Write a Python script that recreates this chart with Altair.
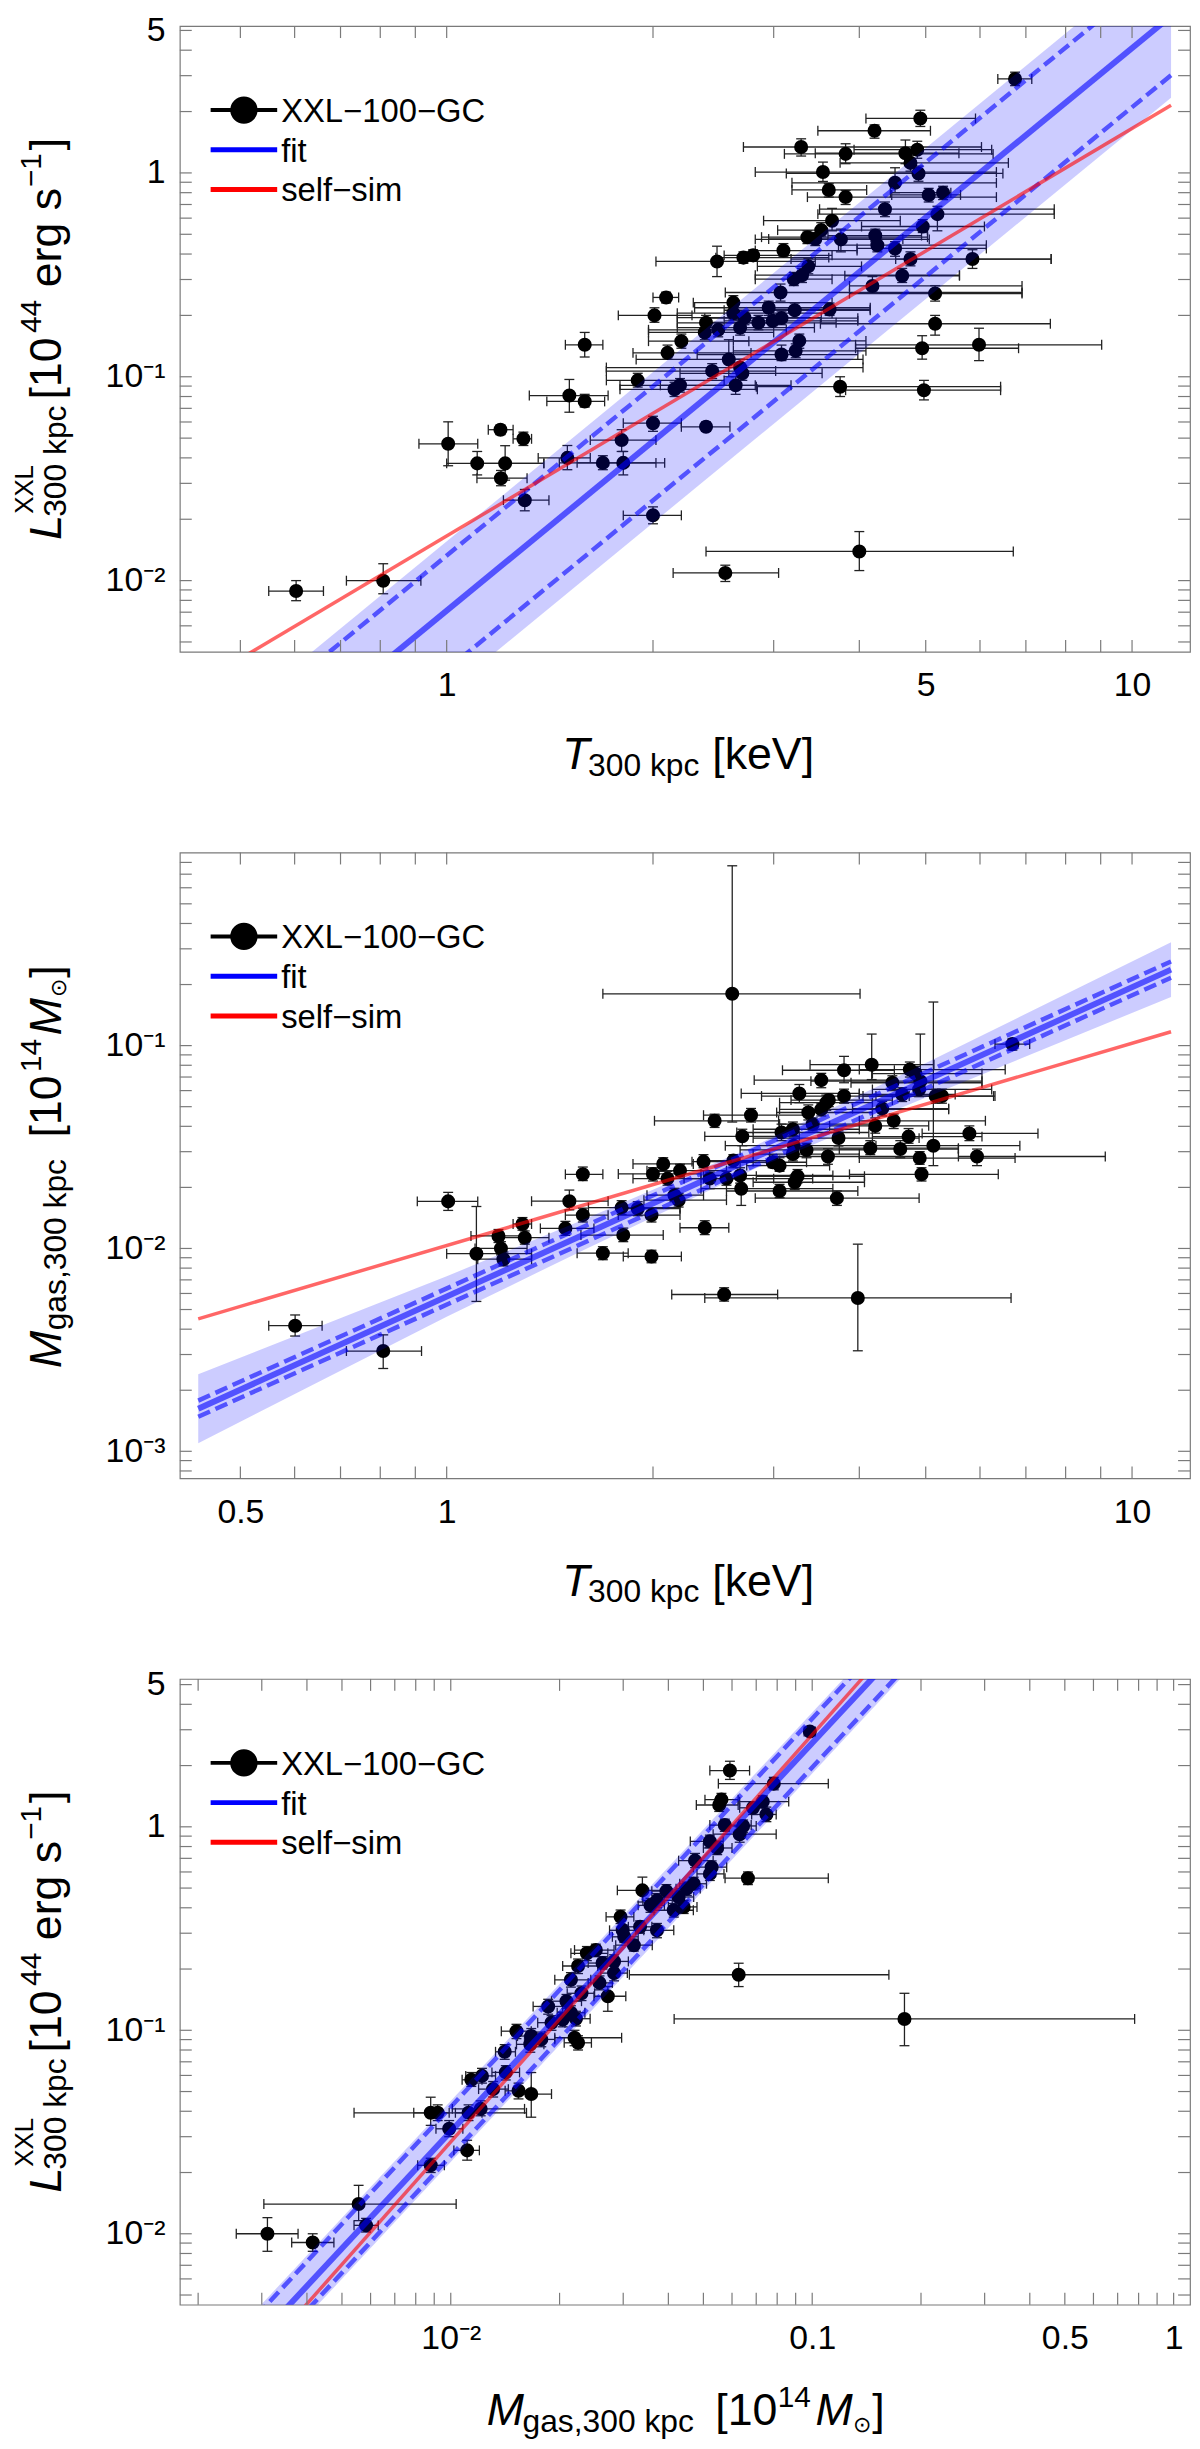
import altair as alt
import pandas as pd

# ---------------- data: panel 1  (T300kpc vs L_XXL) ----------------
p1_T = [6.75, 4.91, 4.21, 3.29, 3.82, 4.67, 4.86, 4.75, 3.54, 4.88,
        4.51, 3.61, 3.82, 5.05, 5.30, 4.36, 5.20, 3.65, 4.95, 3.52,
        3.36, 3.45, 3.76, 4.22, 4.25, 4.51, 3.10, 2.71, 2.80, 2.48,
        4.75, 5.85, 3.37, 3.30, 3.21, 4.62, 3.07, 4.18, 5.16, 2.09,
        2.62, 2.01, 2.95, 3.22, 3.62, 2.72, 2.62, 2.99, 3.08, 2.85,
        2.39, 2.68, 2.38, 2.49, 5.16, 1.59, 2.20, 2.10, 3.27, 3.23,
        3.08, 4.94, 5.98, 2.58, 2.68, 2.70, 2.44, 1.90, 2.15, 2.19,
        2.64, 3.75, 4.97, 1.51, 1.59, 2.00, 2.39, 1.80, 1.50, 1.69,
        1.81, 2.00, 4.00, 2.55, 0.603, 0.808, 1.005, 1.198, 1.108, 1.217,
        1.20, 1.294, 1.30]
p1_T_lo = [6.37, 4.09, 3.48, 2.71, 3.11, 3.45, 3.93, 3.75, 2.82, 3.13,
           3.19, 3.19, 3.36, 4.46, 4.44, 3.50, 3.48, 2.90, 4.03, 3.04,
           2.88, 2.95, 2.82, 3.60, 3.73, 3.97, 2.82, 2.47, 2.54, 2.02,
           3.18, 4.52, 2.84, 2.82, 2.82, 3.81, 2.55, 3.87, 3.87, 2.00,
           2.29, 1.78, 2.30, 2.54, 3.00, 2.17, 2.17, 2.54, 2.38, 2.38,
           2.17, 2.17, 1.97, 1.97, 3.51, 1.49, 1.97, 1.87, 2.62, 2.62,
           2.32, 3.95, 3.95, 1.89, 1.71, 2.19, 1.71, 1.71, 1.79, 1.79,
           2.05, 2.83, 3.82, 1.32, 1.40, 1.81, 2.20, 1.62, 1.36, 1.55,
           1.46, 1.81, 2.39, 2.14, 0.550, 0.714, 0.911, 1.15, 1.00, 1.107,
           1.107, 1.25, 1.21]
p1_T_hi = [7.14, 5.91, 5.08, 6.03, 6.27, 5.59, 6.24, 6.60, 6.34, 6.48,
           6.34, 4.10, 6.34, 5.62, 5.44, 7.70, 7.70, 4.59, 6.09, 5.03,
           5.03, 4.63, 5.06, 4.93, 6.13, 6.13, 3.97, 3.61, 3.65, 3.45,
           7.62, 7.62, 4.03, 5.60, 3.65, 5.60, 6.91, 6.91, 6.91, 2.18,
           3.65, 2.28, 4.15, 4.15, 4.15, 3.52, 3.65, 3.98, 3.98, 3.70,
           3.00, 3.44, 3.00, 3.13, 7.60, 1.69, 2.76, 2.78, 4.09, 4.09,
           3.98, 6.83, 9.03, 4.05, 4.05, 3.53, 3.02, 2.54, 2.84, 2.82,
           3.18, 6.43, 6.43, 1.72, 1.70, 2.20, 2.59, 2.02, 1.62, 2.02,
           2.08, 2.20, 6.71, 3.05, 0.661, 0.917, 1.11, 1.25, 1.386, 1.386,
           1.31, 1.33, 1.41]
p1_L = [2.89, 1.85, 1.61, 1.34, 1.24, 1.25, 1.30, 1.12, 1.01, 0.994,
        0.894, 0.825, 0.761, 0.78, 0.80, 0.664, 0.628, 0.583, 0.546, 0.524,
        0.484, 0.474, 0.472, 0.493, 0.442, 0.426, 0.416, 0.384, 0.394, 0.368,
        0.378, 0.378, 0.348, 0.315, 0.301, 0.313, 0.259, 0.279, 0.256, 0.245,
        0.231, 0.200, 0.218, 0.212, 0.214, 0.195, 0.205, 0.188, 0.194, 0.184,
        0.184, 0.174, 0.165, 0.170, 0.182, 0.1435, 0.1495, 0.131, 0.150, 0.134,
        0.1285, 0.138, 0.1435, 0.1216, 0.111, 0.104, 0.1067, 0.096, 0.0868, 0.0908,
        0.0908, 0.0894, 0.0859, 0.0809, 0.0757, 0.0592, 0.0568, 0.0489, 0.040, 0.0378,
        0.0378, 0.0209, 0.0139, 0.0109, 0.00889, 0.00999, 0.0469, 0.055, 0.0376, 0.0376,
        0.0318, 0.0496, 0.0248]
p1_L_lo = [2.68, 1.69, 1.48, 1.21, 1.11, 1.11, 1.18, 1.02, 0.908, 0.91,
           0.80, 0.761, 0.70, 0.72, 0.74, 0.61, 0.52, 0.52, 0.51, 0.49,
           0.45, 0.44, 0.41, 0.46, 0.41, 0.39, 0.39, 0.36, 0.37, 0.31,
           0.35, 0.34, 0.32, 0.29, 0.28, 0.29, 0.235, 0.26, 0.235, 0.23,
           0.21, 0.185, 0.20, 0.195, 0.20, 0.18, 0.19, 0.175, 0.18, 0.17,
           0.17, 0.16, 0.152, 0.157, 0.16, 0.125, 0.138, 0.122, 0.138, 0.124,
           0.12, 0.122, 0.120, 0.10, 0.10, 0.096, 0.098, 0.089, 0.08, 0.084,
           0.082, 0.08, 0.077, 0.067, 0.071, 0.054, 0.054, 0.043, 0.035, 0.035,
           0.033, 0.019, 0.0112, 0.0099, 0.00797, 0.00862, 0.0366, 0.052, 0.033, 0.0311,
           0.0292, 0.046, 0.022]
p1_L_hi = [3.12, 2.03, 1.72, 1.47, 1.39, 1.45, 1.43, 1.22, 1.13, 1.08,
           1.06, 0.885, 0.82, 0.84, 0.86, 0.72, 0.686, 0.67, 0.59, 0.57,
           0.52, 0.51, 0.53, 0.53, 0.48, 0.46, 0.45, 0.41, 0.42, 0.437,
           0.41, 0.42, 0.38, 0.34, 0.325, 0.34, 0.285, 0.31, 0.28, 0.26,
           0.25, 0.218, 0.235, 0.23, 0.23, 0.21, 0.22, 0.20, 0.21, 0.20,
           0.20, 0.19, 0.18, 0.185, 0.20, 0.165, 0.162, 0.143, 0.162, 0.145,
           0.143, 0.159, 0.173, 0.152, 0.122, 0.113, 0.116, 0.104, 0.094, 0.098,
           0.10, 0.10, 0.096, 0.097, 0.082, 0.064, 0.060, 0.055, 0.046, 0.041,
           0.043, 0.023, 0.0174, 0.0119, 0.0100, 0.0121, 0.0601, 0.058, 0.043, 0.0459,
           0.0347, 0.0535, 0.028]

# ---------------- data: panel 2  (T300kpc vs Mgas) ----------------
p2_T = [6.69, 4.17, 3.80, 4.74, 4.83, 4.91, 3.52, 4.47, 3.27, 4.89,
        5.17, 5.28, 4.62, 3.80, 3.61, 3.58, 3.52, 3.37, 2.78, 4.32,
        2.46, 3.42, 4.49, 4.22, 3.08, 3.20, 2.70, 3.73, 4.72, 5.79,
        3.21, 3.35, 4.15, 4.59, 5.13, 3.20, 3.60, 4.90, 5.94, 4.93,
        2.07, 2.00, 2.19, 2.10, 2.37, 2.62, 2.99, 3.06, 2.68, 2.42,
        2.56, 3.25, 3.22, 2.69, 3.06, 3.71, 1.58, 1.51, 1.80, 1.90,
        1.58, 1.99, 2.18, 2.15, 1.49, 1.81, 2.38, 1.69, 1.99, 2.54,
        3.98, 2.61, 0.601, 0.808, 1.005, 1.105, 1.19, 1.20, 1.21, 1.29,
        1.30]
p2_T_lo = [6.31, 3.39, 3.09, 4.00, 4.18, 3.40, 2.81, 3.89, 2.69, 4.18,
           4.05, 4.23, 4.00, 2.88, 3.18, 3.06, 3.06, 3.03, 2.37, 3.91,
           2.01, 3.06, 4.00, 3.62, 2.65, 2.80, 2.38, 2.80, 4.18, 4.94,
           2.55, 2.68, 3.20, 3.74, 4.23, 2.80, 2.96, 4.00, 5.58, 3.87,
           1.87, 1.78, 1.96, 1.87, 2.28, 2.35, 2.68, 2.74, 2.37, 2.22,
           2.35, 2.83, 2.80, 2.35, 2.56, 2.82, 1.49, 1.33, 1.61, 1.78,
           1.49, 1.78, 1.94, 1.96, 1.37, 1.57, 2.19, 1.55, 1.81, 2.13,
           2.38, 1.69, 0.55, 0.714, 0.906, 1.00, 1.085, 1.10, 1.11, 1.25,
           1.21]
p2_T_hi = [7.09, 5.14, 4.50, 6.53, 6.04, 6.04, 4.47, 6.04, 4.00, 6.24,
           6.28, 6.31, 5.52, 4.73, 4.47, 4.18, 5.40, 4.18, 3.35, 5.40,
           3.05, 4.18, 6.11, 5.05, 4.13, 4.00, 3.27, 4.89, 6.04, 7.29,
           4.18, 4.18, 5.58, 5.58, 6.86, 4.00, 4.89, 6.75, 9.14, 6.38,
           2.29, 2.35, 2.56, 2.37, 2.80, 3.06, 3.35, 3.62, 3.66, 3.00,
           3.42, 4.07, 4.07, 3.66, 3.98, 4.89, 1.69, 1.72, 2.19, 2.19,
           1.72, 2.19, 2.56, 2.37, 1.64, 2.07, 2.58, 1.84, 2.20, 3.04,
           6.66, 4.01, 0.658, 0.919, 1.11, 1.33, 1.30, 1.31, 1.33, 1.33,
           1.41]
p2_M = [0.1017, 0.0805, 0.0756, 0.0762, 0.0728, 0.0668, 0.0676, 0.0656, 0.0581, 0.0608,
        0.0564, 0.0564, 0.0574, 0.0564, 0.0539, 0.0523, 0.0485, 0.0468, 0.0454, 0.0489,
        0.0426, 0.0410, 0.0426, 0.0402, 0.0373, 0.0387, 0.0357, 0.0350, 0.0356, 0.0369,
        0.0321, 0.0306, 0.0312, 0.0309, 0.0321, 0.0292, 0.0284, 0.0279, 0.0284, 0.0232,
        0.0261, 0.0233, 0.0242, 0.0221, 0.0268, 0.0271, 0.0266, 0.0256, 0.0229, 0.0221,
        0.0221, 0.0227, 0.0212, 0.0197, 0.0192, 0.0177, 0.0232, 0.0171, 0.0159, 0.0157,
        0.0146, 0.0146, 0.0173, 0.0183, 0.01256, 0.01164, 0.01265, 0.00948, 0.00913, 0.00593,
        0.0057, 0.18, 0.00416, 0.00312, 0.01706, 0.00942, 0.01153, 0.0100, 0.00885, 0.0132,
        0.0113]
p2_M_lo = [0.095, 0.068, 0.0656, 0.070, 0.067, 0.061, 0.062, 0.060, 0.0523, 0.056,
           0.052, 0.052, 0.053, 0.052, 0.050, 0.048, 0.045, 0.043, 0.042, 0.045,
           0.0395, 0.038, 0.039, 0.037, 0.034, 0.036, 0.0321, 0.032, 0.033, 0.034,
           0.029, 0.028, 0.029, 0.028, 0.0256, 0.027, 0.026, 0.026, 0.0256, 0.0215,
           0.024, 0.0215, 0.0225, 0.0205, 0.025, 0.025, 0.025, 0.024, 0.021, 0.0197,
           0.0205, 0.021, 0.0195, 0.0163, 0.0178, 0.0163, 0.0216, 0.0155, 0.0147, 0.0145,
           0.0135, 0.0135, 0.0160, 0.0170, 0.0116, 0.0108, 0.0117, 0.0088, 0.0085, 0.0055,
           0.00313, 0.042, 0.0037, 0.00256, 0.0154, 0.00548, 0.0107, 0.0093, 0.0082, 0.0123,
           0.0105]
p2_M_hi = [0.108, 0.114, 0.0885, 0.083, 0.079, 0.114, 0.073, 0.071, 0.0643, 0.066,
           0.061, 0.061, 0.062, 0.061, 0.058, 0.057, 0.052, 0.051, 0.049, 0.053,
           0.0459, 0.044, 0.046, 0.044, 0.041, 0.042, 0.0387, 0.038, 0.039, 0.0402,
           0.035, 0.033, 0.034, 0.034, 0.164, 0.032, 0.031, 0.030, 0.0309, 0.025,
           0.028, 0.025, 0.026, 0.024, 0.029, 0.029, 0.029, 0.028, 0.025, 0.0238,
           0.024, 0.0245, 0.023, 0.0229, 0.0207, 0.0192, 0.0252, 0.0194, 0.0172, 0.0170,
           0.0158, 0.0158, 0.0187, 0.0198, 0.0136, 0.0126, 0.0137, 0.0102, 0.0098, 0.0064,
           0.0105, 0.77, 0.0047, 0.00375, 0.0189, 0.0161, 0.0124, 0.0108, 0.0096, 0.0142,
           0.0122]

# ---------------- data: panel 3  (Mgas vs L_XXL) ----------------
p3_M = [0.0985, 0.0592, 0.0783, 0.0561, 0.0553, 0.0730, 0.0747, 0.0686, 0.0573, 0.0644,
        0.063, 0.0521, 0.0546, 0.0474, 0.0527, 0.0521, 0.0664, 0.047, 0.045, 0.0395,
        0.0339, 0.0372, 0.0427, 0.0357, 0.0414, 0.0441, 0.0295, 0.0334, 0.0372, 0.0299,
        0.0302, 0.0321, 0.0252, 0.0238, 0.0283, 0.0263, 0.0225, 0.0283, 0.0215, 0.0258,
        0.0230, 0.0272, 0.0209, 0.0186, 0.0215, 0.0204, 0.0222, 0.019, 0.0152, 0.0167,
        0.0178, 0.0166, 0.022, 0.0225, 0.0141, 0.0142, 0.0122, 0.0114, 0.0131, 0.0154,
        0.0167, 0.0088, 0.0092, 0.0112, 0.0121, 0.0099, 0.0111, 0.0088, 0.0626, 0.18,
        0.00311, 0.00415, 0.00556, 0.00583]
p3_M_lo = [0.095, 0.0521, 0.055, 0.0505, 0.0478, 0.063, 0.068, 0.063, 0.0521, 0.059,
           0.0532, 0.046, 0.050, 0.0427, 0.0469, 0.048, 0.0574, 0.043, 0.042, 0.036,
           0.0289, 0.034, 0.039, 0.033, 0.0365, 0.040, 0.0269, 0.031, 0.0342, 0.0275,
           0.028, 0.0286, 0.022, 0.0215, 0.026, 0.024, 0.0204, 0.026, 0.0194, 0.024,
           0.021, 0.0249, 0.019, 0.0169, 0.0197, 0.0187, 0.0203, 0.0174, 0.0138, 0.0153,
           0.016, 0.0152, 0.0194, 0.0206, 0.0133, 0.013, 0.011, 0.01075, 0.01194, 0.01414,
           0.01538, 0.0079, 0.0054, 0.0103, 0.0101, 0.0091, 0.0102, 0.0081, 0.0312, 0.0415,
           0.00255, 0.00363, 0.00304, 0.0054]
p3_M_hi = [0.102, 0.0671, 0.1108, 0.0624, 0.0624, 0.0861, 0.0795, 0.075, 0.0678, 0.070,
           0.0795, 0.0567, 0.060, 0.0532, 0.058, 0.057, 0.1108, 0.051, 0.049, 0.043,
           0.0397, 0.041, 0.047, 0.039, 0.0469, 0.048, 0.0321, 0.036, 0.0414, 0.0325,
           0.033, 0.0361, 0.0283, 0.0272, 0.031, 0.029, 0.0255, 0.0308, 0.0244, 0.028,
           0.025, 0.0305, 0.023, 0.0204, 0.0235, 0.0222, 0.0243, 0.0207, 0.0167, 0.0182,
           0.0194, 0.0181, 0.0297, 0.0245, 0.0151, 0.0155, 0.0133, 0.0122, 0.01443, 0.0167,
           0.019, 0.0099, 0.0162, 0.0122, 0.016, 0.0108, 0.012, 0.0096, 0.163, 0.78,
           0.00378, 0.00475, 0.01035, 0.0063]
p3_L = [2.94, 1.89, 1.63, 1.36, 1.28, 1.33, 1.15, 1.24, 1.02, 1.01,
        0.92, 0.848, 0.787, 0.682, 0.633, 0.587, 0.559, 0.525, 0.497, 0.483,
        0.487, 0.435, 0.452, 0.411, 0.389, 0.404, 0.361, 0.3225, 0.31, 0.31,
        0.288, 0.262, 0.248, 0.239, 0.218, 0.214, 0.207, 0.191, 0.177, 0.171,
        0.152, 0.147, 0.139, 0.131, 0.122, 0.113, 0.114, 0.109, 0.099, 0.0937,
        0.0902, 0.0853, 0.0919, 0.0868, 0.0784, 0.0621, 0.0597, 0.0571, 0.0514, 0.0504,
        0.0486, 0.0393, 0.0393, 0.0393, 0.0411, 0.0328, 0.0257, 0.0217, 0.1875, 0.1137,
        0.0100, 0.00906, 0.0140, 0.0110]
p3_L_lo = [2.85, 1.71, 1.52, 1.27, 1.19, 1.24, 1.06, 1.15, 0.95, 0.94,
           0.84, 0.79, 0.73, 0.63, 0.59, 0.545, 0.52, 0.49, 0.46, 0.45,
           0.427, 0.40, 0.42, 0.38, 0.36, 0.375, 0.335, 0.30, 0.285, 0.29,
           0.27, 0.245, 0.23, 0.22, 0.20, 0.20, 0.19, 0.175, 0.163, 0.158,
           0.14, 0.124, 0.128, 0.12, 0.112, 0.104, 0.105, 0.10, 0.091, 0.086,
           0.083, 0.078, 0.084, 0.08, 0.072, 0.057, 0.055, 0.053, 0.047, 0.046,
           0.0374, 0.0341, 0.036, 0.036, 0.038, 0.030, 0.023, 0.020, 0.164, 0.084,
           0.0082, 0.0082, 0.0116, 0.0102]
p3_L_hi = [3.03, 2.10, 1.75, 1.46, 1.37, 1.42, 1.25, 1.33, 1.09, 1.08,
           1.0, 0.91, 0.85, 0.74, 0.68, 0.63, 0.60, 0.565, 0.535, 0.52,
           0.566, 0.47, 0.49, 0.445, 0.42, 0.435, 0.39, 0.345, 0.335, 0.33,
           0.31, 0.28, 0.265, 0.258, 0.235, 0.23, 0.224, 0.208, 0.192, 0.185,
           0.165, 0.164, 0.15, 0.142, 0.132, 0.123, 0.124, 0.118, 0.107, 0.102,
           0.098, 0.093, 0.10, 0.094, 0.085, 0.067, 0.065, 0.062, 0.056, 0.055,
           0.062, 0.0469, 0.043, 0.043, 0.045, 0.036, 0.0288, 0.0235, 0.2136, 0.152,
           0.0120, 0.0100, 0.0173, 0.0119]

# ---------------- fit / self-similar lines (end points) ----------------
p1_line_x = [0.434, 11.4]
p1_fit = [7.11e-4, 5.88]
p1_fit_dhi = [1.324e-3, 10.95]
p1_fit_dlo = [3.65e-4, 3.016]
p1_band_x = [0.434, 11.4]
p1_band_hi = [1.556e-3, 12.87]
p1_band_lo = [2.83e-4, 2.34]
p1_self = [3.12e-3, 2.15]

p2_line_x = [0.434, 11.4]
p2_fit = [1.622e-3, 0.2369]
p2_fit_dhi = [1.778e-3, 0.2598]
p2_fit_dlo = [1.479e-3, 0.2161]
p2_band_x = [0.434, 1.0, 1.585, 2.818, 5.012, 11.4]
p2_band_hi = [2.40e-3, 7.29e-3, 0.0139, 0.0321, 0.0823, 0.3233]
p2_band_lo = [1.096e-3, 4.60e-3, 9.84e-3, 0.0247, 0.0557, 0.1737]
p2_self = [4.50e-3, 0.117]

p3_line_x = [0.00178, 1.12]
p3_fit = [1.180e-3, 260.0]
p3_fit_dhi = [1.556e-3, 342.8]
p3_fit_dlo = [8.95e-4, 197.2]
p3_band_x = [0.00178, 1.12]
p3_band_hi = [1.667e-3, 367.3]
p3_band_lo = [8.36e-4, 184.1]
p3_self = [8.95e-4, 356.5]

# ---------------- ticks and labels ----------------
ticks_T = [0.5, 0.6, 0.7, 0.8, 0.9, 1, 2, 3, 4, 5, 6, 7, 8, 9, 10]
ticks_L = [0.005, 0.006, 0.007, 0.008, 0.009, 0.01, 0.02, 0.03, 0.04, 0.05, 0.06, 0.07, 0.08, 0.09,
           0.1, 0.2, 0.3, 0.4, 0.5, 0.6, 0.7, 0.8, 0.9, 1, 2, 3, 4, 5]
ticks_Mt = [0.0008, 0.0009, 0.001, 0.002, 0.003, 0.004, 0.005, 0.006, 0.007, 0.008, 0.009,
            0.01, 0.02, 0.03, 0.04, 0.05, 0.06, 0.07, 0.08, 0.09, 0.1, 0.2, 0.3, 0.4, 0.5, 0.6, 0.7, 0.8]
ticks_Mx = [0.002, 0.003, 0.004, 0.005, 0.006, 0.007, 0.008, 0.009, 0.01, 0.02, 0.03, 0.04, 0.05,
            0.06, 0.07, 0.08, 0.09, 0.1, 0.2, 0.3, 0.4, 0.5, 0.6, 0.7, 0.8, 0.9, 1]
lab_T1_v, lab_T1_t = [1, 5, 10], ["1", "5", "10"]
lab_T2_v, lab_T2_t = [0.5, 1, 10], ["0.5", "1", "10"]
lab_L_v, lab_L_t = [0.01, 0.1, 1, 5], ["10⁻²", "10⁻¹", "1", "5"]
lab_M_v, lab_M_t = [0.001, 0.01, 0.1], ["10⁻³", "10⁻²", "10⁻¹"]
lab_Mx_v, lab_Mx_t = [0.01, 0.1, 0.5, 1], ["10⁻²", "0.1", "0.5", "1"]

legend_labels = ["XXL−100−GC", "fit", "self−sim"]
legend_colors = ["#000000", "#0000ff", "#ff0000"]

# ---------------- styling ----------------
FONT = "Liberation Sans"
W, H = 1017, 630
FRAME = "#7a7a7a"
ERRC = "#222222"
TICK = 12
ONE = pd.DataFrame({"z": [0]})


def lab_expr(vals, texts):
    expr = "''"
    for v, t in reversed(list(zip(vals, texts))):
        expr = f"datum.value == {v} ? '{t}' : ({expr})"
    return expr


def txt(s, x, y, size, style="normal", angle=None):
    kw = dict(font=FONT, fontSize=size, fontStyle=style, align="left",
              baseline="alphabetic", color="black")
    if angle is not None:
        kw["angle"] = angle
    return alt.Chart(ONE).mark_text(**kw).encode(
        x=alt.value(x), y=alt.value(y), text=alt.value(s))


def panel(px, pxlo, pxhi, py, pylo, pyhi, xdom, ydom, xt, yt, xl, yl,
          line_x, fit, dhi, dlo, band_x, band_lo, band_hi, self_y, xtitle, ytitle):
    xs = alt.Scale(type="log", domain=xdom, nice=False)
    ys = alt.Scale(type="log", domain=ydom, nice=False)
    common = dict(ticks=False, tickSize=0, domain=False, grid=False, title=None,
                  labelFont=FONT, labelFontSize=34, labelColor="black",
                  labelFlush=False, labelOverlap=False)
    xax = alt.Axis(values=xl[0], labelExpr=lab_expr(*xl), labelPadding=17, **common)
    yax = alt.Axis(values=yl[0], labelExpr=lab_expr(*yl), labelPadding=15, **common)

    def X(f):
        return alt.X(f"{f}:Q", scale=xs, axis=xax)

    def Y(f):
        return alt.Y(f"{f}:Q", scale=ys, axis=yax)

    pts = pd.DataFrame({"x": px, "xlo": pxlo, "xhi": pxhi, "y": py, "ylo": pylo, "yhi": pyhi})
    base = alt.Chart(pts)
    err_h = base.mark_rule(color=ERRC, strokeWidth=1.3).encode(x=X("xlo"), x2="xhi", y=Y("y"))
    err_v = base.mark_rule(color=ERRC, strokeWidth=1.3).encode(x=X("x"), y=Y("ylo"), y2="yhi")
    cap_h = base.transform_fold(["xlo", "xhi"], as_=["k", "cx"]).mark_tick(
        orient="vertical", size=10, thickness=1.3, color=ERRC, opacity=1).encode(x=X("cx"), y=Y("y"))
    cap_v = base.transform_fold(["ylo", "yhi"], as_=["k", "cy"]).mark_tick(
        orient="horizontal", size=10, thickness=1.3, color=ERRC, opacity=1).encode(x=X("x"), y=Y("cy"))
    dots = base.mark_circle(size=200, color="black", opacity=1).encode(x=X("x"), y=Y("y"))

    band = alt.Chart(pd.DataFrame({"x": band_x, "lo": band_lo, "hi": band_hi})).mark_area(
        clip=True, color="#0000ff", opacity=0.2).encode(x=X("x"), y=Y("lo"), y2="hi")
    dash_df = pd.DataFrame({"x": line_x + line_x, "y": dlo + dhi,
                            "k": ["lo"] * len(line_x) + ["hi"] * len(line_x)})
    dashed = alt.Chart(dash_df).mark_line(clip=True, color="#0000ff", opacity=0.6,
                                          strokeWidth=4.5, strokeDash=[13, 6]).encode(
        x=X("x"), y=Y("y"), detail="k:N")
    solid = alt.Chart(pd.DataFrame({"x": line_x, "y": fit})).mark_line(
        clip=True, color="#0000ff", opacity=0.6, strokeWidth=6).encode(x=X("x"), y=Y("y"))
    selfl = alt.Chart(pd.DataFrame({"x": line_x, "y": self_y})).mark_line(
        clip=True, color="#ff0000", opacity=0.6, strokeWidth=3.5).encode(x=X("x"), y=Y("y"))

    xtd = pd.DataFrame({"v": xt})
    ytd = pd.DataFrame({"v": yt})
    tk = dict(color=FRAME, strokeWidth=1.2)
    t_bot = alt.Chart(xtd).mark_rule(**tk).encode(x=X("v"), y=alt.value(H), y2=alt.value(H - TICK))
    t_top = alt.Chart(xtd).mark_rule(**tk).encode(x=X("v"), y=alt.value(0), y2=alt.value(TICK))
    t_lft = alt.Chart(ytd).mark_rule(**tk).encode(y=Y("v"), x=alt.value(0), x2=alt.value(TICK))
    t_rgt = alt.Chart(ytd).mark_rule(**tk).encode(y=Y("v"), x=alt.value(W), x2=alt.value(W - TICK))

    # legend (inside the frame, top-left)
    leg = []
    ly = [84.5, 124.5, 164.5]
    lw = [4, 5, 5]
    for i in range(3):
        leg.append(alt.Chart(ONE).mark_rule(color=legend_colors[i], strokeWidth=lw[i]).encode(
            x=alt.value(31), x2=alt.value(98), y=alt.value(ly[i])))
        leg.append(txt(legend_labels[i], 102, ly[i] + 12, 33))
    leg.append(alt.Chart(ONE).mark_circle(size=755, color="black", opacity=1).encode(
        x=alt.value(64.5), y=alt.value(84.5)))

    titles = []
    for (s, x, y, size, style) in xtitle:
        titles.append(txt(s, x, y, size, style))
    for (s, x, y, size, style) in ytitle:
        titles.append(txt(s, x, y, size, style, angle=270))

    layers = [err_h, err_v, cap_h, cap_v, dots, band, dashed, solid, selfl,
              t_bot, t_top, t_lft, t_rgt] + leg + titles
    return alt.layer(*layers).properties(width=W, height=H)


XT_T = [("T", 385, 748, 45, "italic"), ("300 kpc", 411, 755, 32, "normal"),
        ("[keV]", 536, 748, 45, "normal")]
XT_M = [("M", 309, 751, 45, "italic"), ("gas,300 kpc", 345, 758, 32, "normal"),
        ("[10", 539, 751, 45, "normal"), ("14", 602, 733, 30, "normal"),
        ("M", 640, 751, 45, "italic"), ("⊙", 678, 758, 22, "normal"),
        ("]", 697, 751, 45, "normal")]
YT_L = [("L", -120, 517, 45, "italic"), ("XXL", -148, 491, 26, "normal"),
        ("300 kpc", -115, 494, 32, "normal"), ("[10", -120, 376, 45, "normal"),
        ("44", -140, 309, 30, "normal"), ("erg s", -120, 263, 45, "normal"),
        ("−1", -140, 162, 30, "normal"), ("]", -120, 125, 45, "normal")]
YT_M = [("M", -120, 519, 45, "italic"), ("gas,300 kpc", -115, 481, 32, "normal"),
        ("[10", -120, 287, 45, "normal"), ("14", -140, 221, 30, "normal"),
        ("M", -120, 184, 45, "italic"), ("⊙", -115, 145, 22, "normal"),
        ("]", -120, 126, 45, "normal")]

c1 = panel(p1_T, p1_T_lo, p1_T_hi, p1_L, p1_L_lo, p1_L_hi, [0.408, 12.15], [0.00447, 5.25],
           ticks_T, ticks_L, (lab_T1_v, lab_T1_t), (lab_L_v, lab_L_t),
           p1_line_x, p1_fit, p1_fit_dhi, p1_fit_dlo, p1_band_x, p1_band_lo, p1_band_hi, p1_self,
           XT_T, YT_L)
c2 = panel(p2_T, p2_T_lo, p2_T_hi, p2_M, p2_M_lo, p2_M_hi, [0.408, 12.15], [0.000736, 0.895],
           ticks_T, ticks_Mt, (lab_T2_v, lab_T2_t), (lab_M_v, lab_M_t),
           p2_line_x, p2_fit, p2_fit_dhi, p2_fit_dlo, p2_band_x, p2_band_lo, p2_band_hi, p2_self,
           XT_T, YT_M)
c3 = panel(p3_M, p3_M_lo, p3_M_hi, p3_L, p3_L_lo, p3_L_hi, [0.00178, 1.11], [0.00448, 5.33],
           ticks_Mx, ticks_L, (lab_Mx_v, lab_Mx_t), (lab_L_v, lab_L_t),
           p3_line_x, p3_fit, p3_fit_dhi, p3_fit_dlo, p3_band_x, p3_band_lo, p3_band_hi, p3_self,
           XT_M, YT_L)

chart = alt.vconcat(c1, c2, c3, spacing=202, bounds="flush").properties(
    padding={"left": 3, "top": -4, "right": 0, "bottom": 0},
    background="white",
).configure_view(stroke=FRAME, strokeWidth=1.2)

chart.save("out.html", embed_options={"renderer": "svg", "actions": False})
